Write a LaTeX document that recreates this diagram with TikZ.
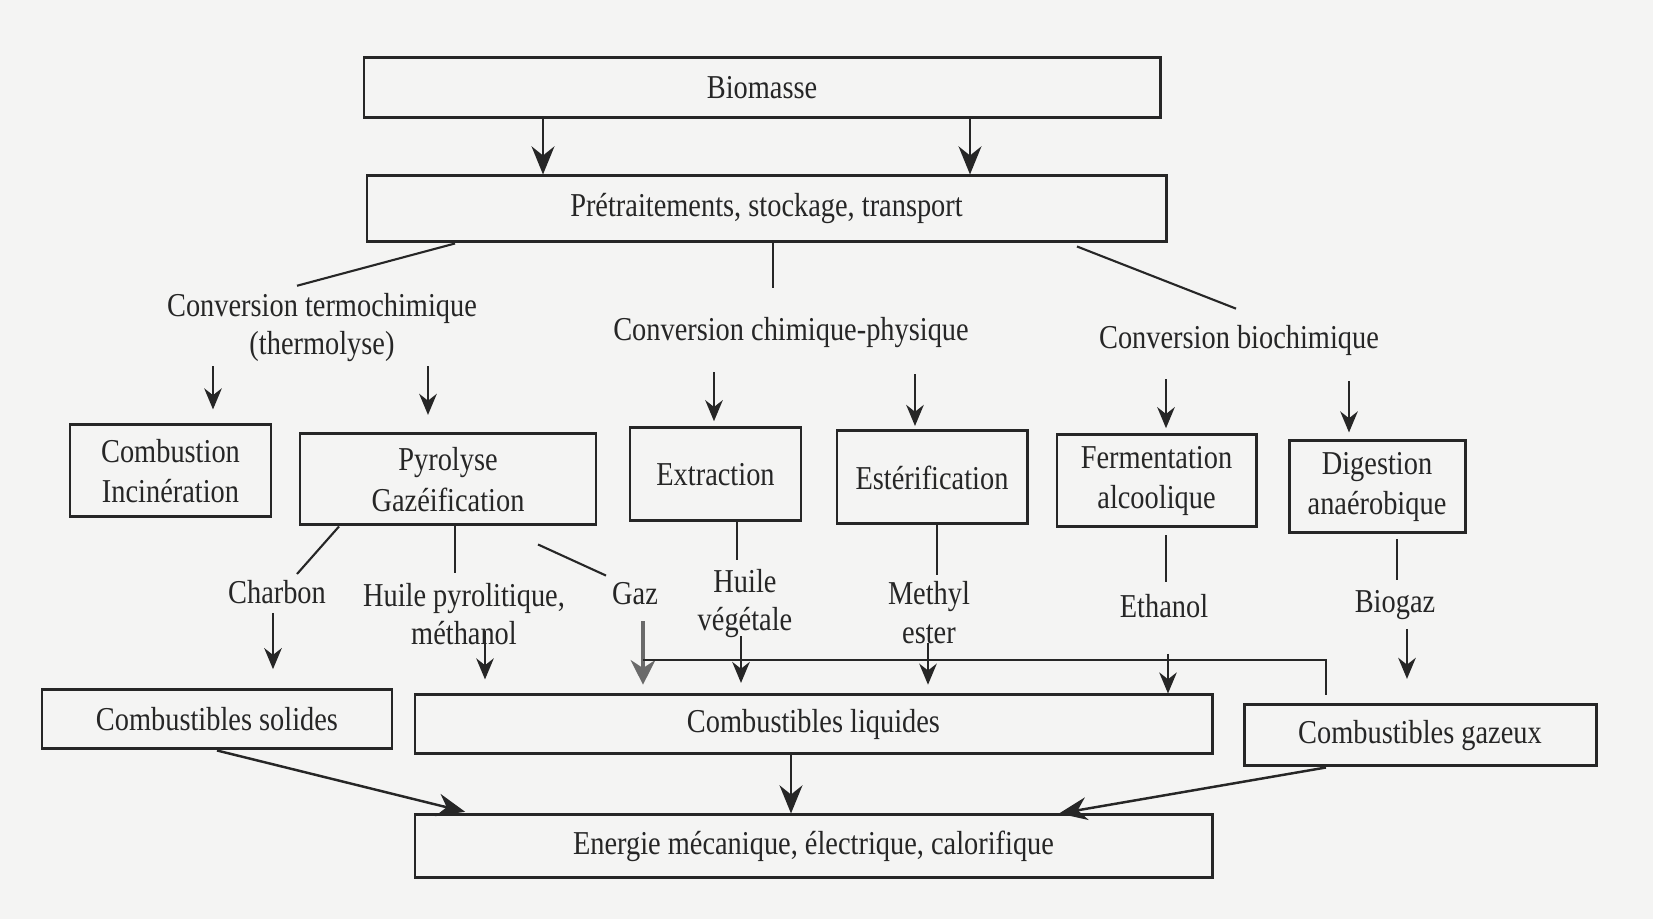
\documentclass[tikz,border=0pt]{standalone}
\usepackage{fontspec}
\setmainfont[FakeStretch=0.85]{Liberation Serif}
\usepackage{xcolor}
\usepackage{tikz}
\usetikzlibrary{calc,arrows.meta}
\definecolor{paper}{HTML}{F4F4F3}
\definecolor{ink}{HTML}{262626}
\definecolor{inkgray}{HTML}{6A6A6A}
\tikzset{
  box/.style={draw=ink, line width=0.85pt, inner sep=0pt, align=center, text=ink, font=\fontsize{9.5}{11.5}\selectfont},
  lab/.style={text=ink, align=center, inner sep=1pt, font=\fontsize{9.5}{11}\selectfont},
  ln/.style={draw=ink, line width=0.6pt},
  arr/.style={ln, -{Stealth[length=6pt,width=5pt]}},
  big/.style={ln, line width=0.7pt, -{Stealth[length=8pt,width=6.5pt]}},
  gray arr/.style={draw=inkgray, line width=1pt, -{Stealth[length=7pt,width=7pt]}},
}
\begin{document}
\begin{tikzpicture}
  \fill[paper] (0,0) rectangle (16.53,-9.19);
  \useasboundingbox (0,0) rectangle (16.53,-9.19);
  % boxes
  \node[box, minimum width=7.96cm, minimum height=0.60cm] (bio) at (7.62,-0.88) {Biomasse};
  \node[box, minimum width=7.99cm, minimum height=0.66cm] (pre) at (7.665,-2.09) {Prétraitements, stockage, transport};
  \node[box, minimum width=2.01cm, minimum height=0.92cm] (comb) at (1.705,-4.71) {Combustion\\Incinération};
  \node[box, minimum width=2.96cm, minimum height=0.91cm] (pyro) at (4.48,-4.795) {Pyrolyse\\Gazéification};
  \node[box, minimum width=1.71cm, minimum height=0.93cm] (extr) at (7.155,-4.745) {Extraction};
  \node[box, minimum width=1.90cm, minimum height=0.93cm] (este) at (9.32,-4.775) {Estérification};
  \node[box, minimum width=1.99cm, minimum height=0.92cm] (ferm) at (11.565,-4.81) {Fermentation\\alcoolique};
  \node[box, minimum width=1.76cm, minimum height=0.92cm] (dige) at (13.77,-4.87) {Digestion\\anaérobique};
  \node[box, minimum width=3.50cm, minimum height=0.59cm] (sol) at (2.17,-7.195) {Combustibles solides};
  \node[box, minimum width=7.97cm, minimum height=0.59cm] (liq) at (8.135,-7.245) {Combustibles liquides};
  \node[box, minimum width=3.52cm, minimum height=0.61cm] (gaz) at (14.20,-7.355) {Combustibles gazeux};
  \node[box, minimum width=7.97cm, minimum height=0.63cm] (ener) at (8.135,-8.465) {Energie mécanique, électrique, calorifique};
  % conversion routes
  \node[lab] (ct) at (3.22,-3.275) {Conversion termochimique\\(thermolyse)};
  \node[lab] (cc) at (7.91,-3.33) {Conversion chimique-physique};
  \node[lab] (cb) at (12.39,-3.40) {Conversion biochimique};
  % products
  \node[lab] (charb) at (2.77,-5.92) {Charbon};
  \node[lab] (hp) at (4.64,-6.14) {Huile pyrolitique,\\méthanol};
  \node[lab] (gazl) at (6.35,-5.94) {Gaz};
  \node[lab] (hv) at (7.45,-6.035) {Huile\\végétale};
  \node[lab] (me) at (9.29,-6.125) {Methyl\\ester};
  \node[lab] (eth) at (11.64,-6.06) {Ethanol};
  \node[lab] (bg) at (13.95,-6.05) {Biogaz};
  \coordinate (jg) at (6.43,-6.60);

  \draw[big] (bio.south -| 5.43,0) -- (pre.north -| 5.43,0);
  \draw[big] (bio.south -| 9.70,0) -- (pre.north -| 9.70,0);
  \draw[ln] (pre.south -| 4.55,0) -- ($(ct.north)+(-0.25,0.03)$);
  \draw[ln] (pre.south -| 7.73,0) -- ($(cc.north -| 7.73,0)+(0,0.26)$);
  \draw[ln] ($(pre.south -| 10.77,0)+(0,-0.03)$) -- ($(cb.north)+(-0.03,0.12)$);

  \draw[arr, shorten >=4pt] (ct.south -| 2.13,0) -- (comb.north -| 2.13,0);
  \draw[arr, shorten >=5pt] (ct.south -| 4.28,0) -- (pyro.north -| 4.28,0);
  \draw[arr, shorten >=1.5pt] ($(cc.south -| 7.14,0)+(0,-0.2)$) -- (extr.north -| 7.14,0);
  \draw[arr, shorten >=1pt] ($(cc.south -| 9.15,0)+(0,-0.22)$) -- (este.north -| 9.15,0);
  \draw[arr, shorten >=1.5pt] ($(cb.south -| 11.66,0)+(0,-0.2)$) -- (ferm.north -| 11.66,0);
  \draw[arr, shorten >=2pt] ($(cb.south -| 13.49,0)+(0,-0.22)$) -- (dige.north -| 13.49,0);

  \draw[ln] (pyro.south -| 3.39,0) -- ($(charb.north)+(0.2,0.02)$);
  \draw[ln] (pyro.south -| 4.55,0) -- ($(hp.north -| 4.55,0)+(0,0.06)$);
  \draw[ln] ($(pyro.south)+(0.90,-0.18)$) -- ($(gazl.north)+(-0.29,0.03)$);
  \draw[ln] (extr.south -| 7.37,0) -- ($(hv.north -| 7.37,0)+(0,0.05)$);
  \draw[ln] (este.south -| 9.37,0) -- ($(me.north -| 9.37,0)+(0,0.02)$);
  \draw[ln] ($(ferm.south -| 11.66,0)+(0,-0.07)$) -- ($(eth.north -| 11.66,0)+(0,0.08)$);
  \draw[ln] ($(dige.south -| 13.97,0)+(0,-0.05)$) -- ($(bg.north -| 13.97,0)+(0,0.06)$);

  \draw[arr, shorten >=5.5pt] ($(charb.south -| 2.73,0)+(0,-0.05)$) -- (sol.north -| 2.73,0);
  \draw[arr, shorten >=4pt] ($(hp.south -| 4.85,0)+(0,0.18)$) -- (liq.north -| 4.85,0);
  \draw[gray arr, shorten >=2.5pt] ($(gazl.south -| 6.43,0)+(0,-0.12)$) -- (liq.north -| 6.43,0);
  \draw[arr, shorten >=3pt] ($(hv.south -| 7.41,0)+(0,0.06)$) -- (liq.north -| 7.41,0);
  \draw[arr, shorten >=2.5pt] ($(me.south -| 9.28,0)+(0,0.05)$) -- (liq.north -| 9.28,0);
  \draw[arr] ($(eth.south -| 11.68,0)+(0,-0.32)$) -- (liq.north -| 11.68,0);
  \draw[arr, shorten >=7pt] ($(bg.south -| 14.07,0)+(0,-0.05)$) -- (gaz.north -| 14.07,0);
  \draw[ln, shorten >=2.5pt] (jg) -| (gaz.north -| 13.26,0);

  \draw[big, shorten >=2pt] (sol.south) -- (ener.north -| 4.72,0);
  \draw[big] (liq.south -| 7.91,0) -- (ener.north -| 7.91,0);
  \draw[big] (gaz.south -| 13.26,0) -- (ener.north -| 10.59,0);
\end{tikzpicture}
\end{document}
